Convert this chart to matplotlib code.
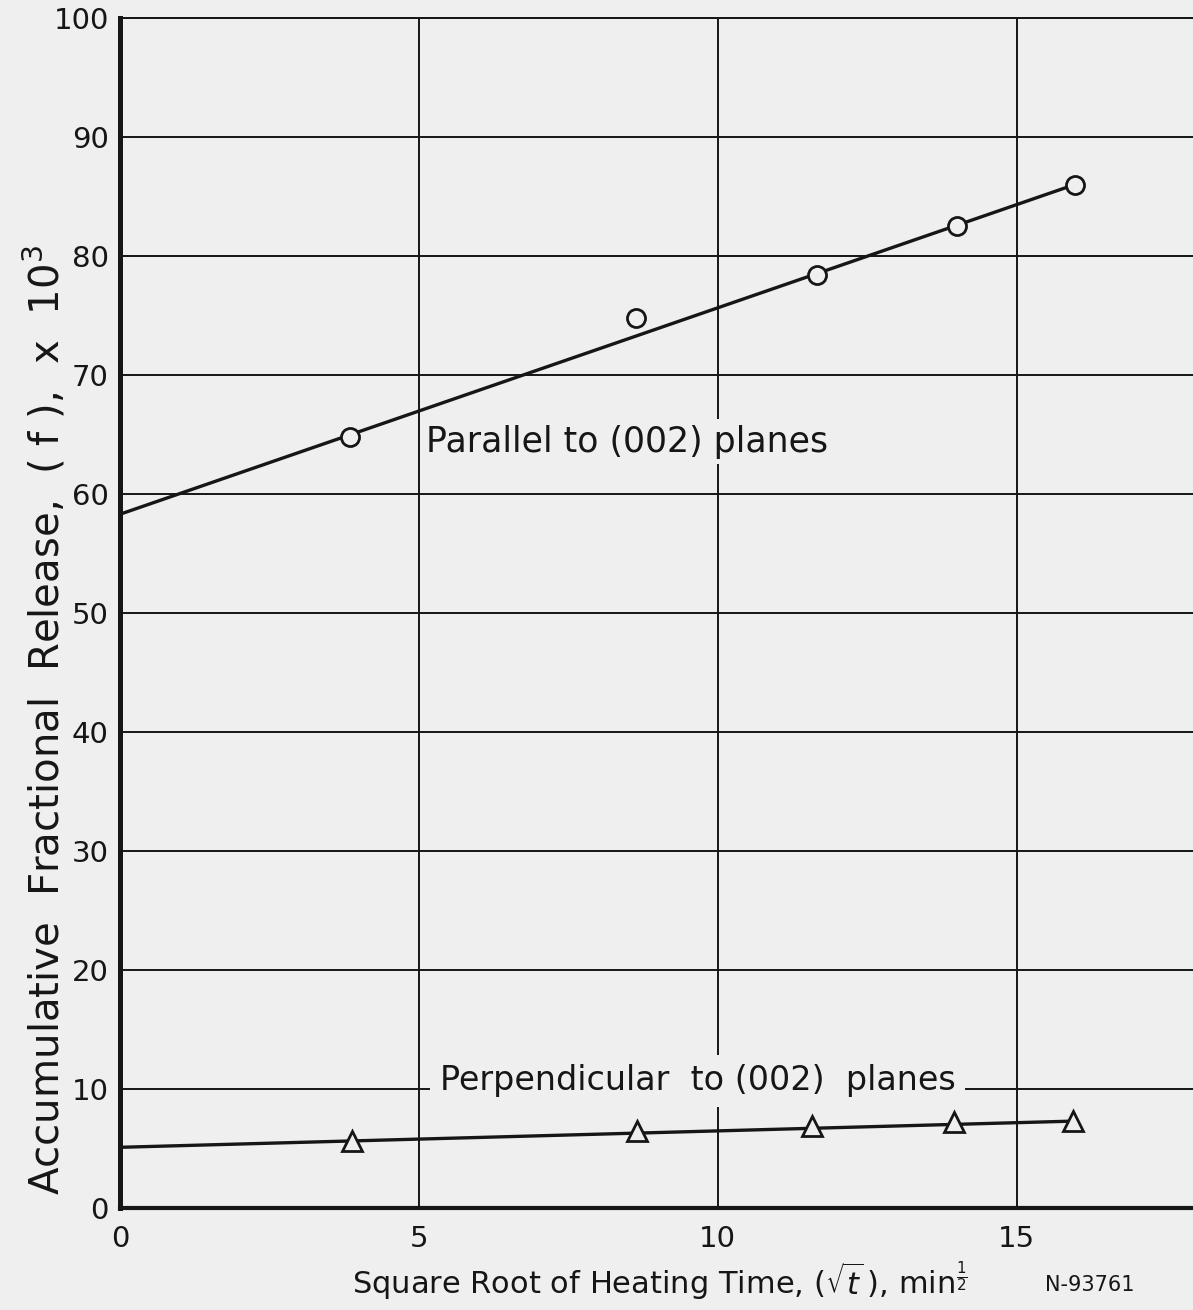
#!/usr/bin/env python

import matplotlib
matplotlib.use('Agg')
import matplotlib.pyplot as plt

# ----------------
# DATA
# ----------------

# parallel to (002) planes -- circles
par_x = [3.85, 8.63, 11.66, 14.0, 15.97]
par_y = [64.8, 74.8, 78.4, 82.5, 86.0]
par_fit_x = [0.0, 15.97]
par_fit_y = [58.3, 86.0]

# perpendicular to (002) planes -- triangles
perp_x = [3.88, 8.65, 11.57, 13.96, 15.94]
perp_y = [5.6, 6.5, 6.9, 7.2, 7.3]
perp_fit_x = [0.0, 15.94]
perp_fit_y = [5.1, 7.3]

x_ticks = [0, 5, 10, 15]
y_ticks = [0, 10, 20, 30, 40, 50, 60, 70, 80, 90, 100]

# ----------------
# Plot
# ----------------

bg = '#efefef'
ink = '#161616'

plt.rcParams['font.family'] = ['DejaVu Sans']
plt.rcParams['mathtext.fontset'] = 'dejavusans'

W, H = 1193, 1310
fig = plt.figure(figsize=(W / 100, H / 100), dpi=100, facecolor=bg)
ax = fig.add_axes([120 / W, 1 - 1208 / H, 1 - 120 / W, (1208 - 18) / H])
ax.set_facecolor(bg)

ax.set_xlim(0, 17.95)
ax.set_ylim(0, 100)
ax.set_xticks(x_ticks)
ax.set_yticks(y_ticks)
ax.grid(True, color=ink, linewidth=1.4, zorder=0)
ax.set_axisbelow(True)

ax.spines['left'].set_linewidth(3.6)
ax.spines['bottom'].set_linewidth(3.0)
ax.spines['top'].set_linewidth(1.4)
ax.spines['right'].set_visible(False)
for s in ax.spines.values():
    s.set_color(ink)

ax.tick_params(length=0, labelsize=21, colors=ink)
ax.tick_params(axis='y', pad=8)
ax.tick_params(axis='x', pad=12)

ax.plot(par_fit_x, par_fit_y, color=ink, linewidth=2.4, zorder=3)
ax.plot(par_x, par_y, linestyle='none', marker='o', markersize=13,
        markerfacecolor=bg, markeredgecolor=ink, markeredgewidth=2.0, zorder=4)

ax.plot(perp_fit_x, perp_fit_y, color=ink, linewidth=2.4, zorder=3)
ax.plot(perp_x, perp_y, linestyle='none', marker='^', markersize=14,
        markerfacecolor=bg, markeredgecolor=ink, markeredgewidth=2.0, zorder=4)

ax.text(5.12, 64.4, 'Parallel to (002) planes', fontsize=25, color=ink,
        va='center', ha='left', bbox=dict(facecolor=bg, edgecolor='none', pad=4),
        zorder=2)
ax.text(5.35, 10.7, 'Perpendicular  to (002)  planes', fontsize=24, color=ink,
        va='center', ha='left', bbox=dict(facecolor=bg, edgecolor='none', pad=7),
        zorder=2)

# axis titles placed in figure pixels to match the scan
fig.text(45 / W, 1 - 720 / H, r'Accumulative  Fractional  Release,  ( f ),  x  10$^3$',
         fontsize=29, color=ink, rotation=90, ha='center', va='center')
fig.text(660 / W, 1 - 1282 / H,
         r'Square Root of Heating Time, ($\sqrt{t}\,$), min$^{\frac{1}{2}}$',
         fontsize=22, color=ink, ha='center', va='center')
fig.text(1090 / W, 1 - 1285 / H, 'N-93761', fontsize=15, color=ink,
         ha='center', va='center')

fig.savefig('out.png', dpi=100, facecolor=bg)
plt.close(fig)
